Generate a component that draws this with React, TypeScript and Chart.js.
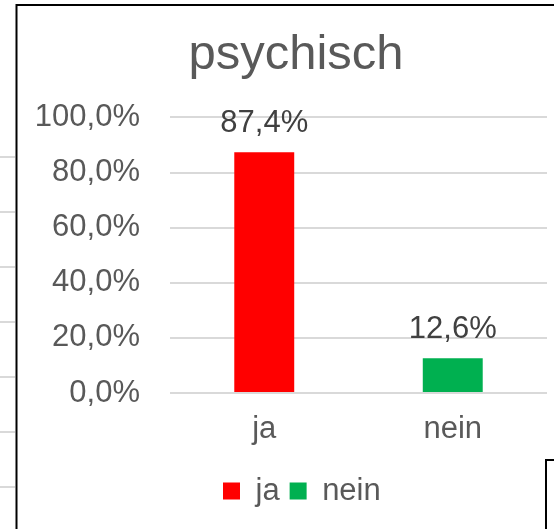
import React, { useEffect, useRef } from 'react';
import { Chart, registerables } from 'chart.js';

Chart.register(...registerables);

// ---- data ----
const chartTitle = 'psychisch';
const categories = ['ja', 'nein'];
const values = [87.4, 12.6];
const barColors = ['#FF0000', '#00B050'];
const yTicks = [0, 20, 40, 60, 80, 100];

const FONT = '"Liberation Sans", Arial, Helvetica, sans-serif';
const TEXT = '#595959';
const LABEL = '#404040';
const GRID = '#D9D9D9';

const fmt = (v: number) => v.toFixed(1).replace('.', ',') + '%';

// decorative frame (chart border + fragments of neighbouring objects)
const decorPlugin = {
  id: 'decor',
  afterLayout(chart: any) {
    // centre the title and the legend the way the original chart does
    const t = chart.titleBlock;
    if (t) {
      const w = t.right - t.left;
      t.left = 296 - w / 2;
      t.right = 296 + w / 2;
    }
    const lg = chart.legend;
    if (lg && lg.lineWidths) {
      const lw = lg.lineWidths[0];
      const cur = (lg.left + 10 + lg.right - lw) / 2;
      const d = 223 - cur;
      lg.left += d;
      lg.right += d;
    }
  },
  beforeDraw(chart: any) {
    const ctx = chart.ctx;
    ctx.save();
    ctx.fillStyle = '#FFFFFF';
    ctx.fillRect(0, 0, chart.width, chart.height);
    ctx.strokeStyle = GRID;
    ctx.lineWidth = 2;
    for (let k = 0; k < 7; k++) {
      const y = 157 + k * 55;
      ctx.beginPath();
      ctx.moveTo(0, y);
      ctx.lineTo(15, y);
      ctx.stroke();
    }
    ctx.strokeStyle = '#000000';
    ctx.lineWidth = 2;
    ctx.beginPath();
    ctx.moveTo(16.5, chart.height);
    ctx.lineTo(16.5, 5);
    ctx.lineTo(chart.width, 5);
    ctx.stroke();
    ctx.beginPath();
    ctx.moveTo(546, chart.height);
    ctx.lineTo(546, 460);
    ctx.lineTo(chart.width, 460);
    ctx.stroke();
    ctx.restore();
  },
};

const dataLabelPlugin = {
  id: 'dataLabels',
  afterDatasetsDraw(chart: any) {
    const ctx = chart.ctx;
    ctx.save();
    ctx.font = `31px ${FONT}`;
    ctx.fillStyle = LABEL;
    ctx.textAlign = 'center';
    ctx.textBaseline = 'alphabetic';
    chart.data.datasets.forEach((ds: any, i: number) => {
      const meta = chart.getDatasetMeta(i);
      meta.data.forEach((el: any, j: number) => {
        const v = ds.data[j];
        if (v == null) return;
        ctx.fillText(fmt(v), el.x, el.y - 20);
      });
    });
    ctx.restore();
  },
};

export default function App() {
  const ref = useRef<HTMLCanvasElement>(null);

  useEffect(() => {
    if (!ref.current) return;
    const datasets = categories.map((c, i) => ({
      label: c,
      data: categories.map((_, j) => (j === i ? values[i] : null)),
      backgroundColor: barColors[i],
      borderWidth: 0,
      grouped: false,
      categoryPercentage: 1,
      barPercentage: 0.318,
    }));

    const chart = new Chart(ref.current, {
      type: 'bar',
      data: { labels: categories, datasets: datasets as any },
      plugins: [decorPlugin, dataLabelPlugin],
      options: {
        animation: false,
        responsive: false,
        devicePixelRatio: 1,
        events: [],
        layout: { padding: { left: 0, right: 7, top: 0, bottom: 12.5 } },
        plugins: {
          title: {
            display: true,
            text: chartTitle,
            color: TEXT,
            font: { family: FONT, size: 49, weight: 'normal' },
            padding: { top: 26.2, bottom: 32.4 },
          },
          legend: {
            display: true,
            position: 'bottom',
            labels: {
              boxWidth: 17,
              boxHeight: 17,
              padding: 10,
              color: TEXT,
              font: { family: FONT, size: 31 },
            },
          },
          tooltip: { enabled: false },
        },
        scales: {
          x: {
            grid: { display: false, drawTicks: false },
            border: { display: false },
            ticks: { color: TEXT, font: { family: FONT, size: 31 }, padding: 18 },
            afterFit: (s: any) => { s.height = 72.5; },
          },
          y: {
            min: 0,
            max: 100,
            grid: { color: GRID, lineWidth: 2, drawTicks: false },
            border: { display: false },
            ticks: {
              color: TEXT,
              font: { family: FONT, size: 31 },
              padding: 30,
              callback: (v: any) => fmt(Number(v)),
            },
            afterBuildTicks: (s: any) => { s.ticks = yTicks.map((v) => ({ value: v })); },
            afterFit: (s: any) => { s.width = 170; },
          },
        },
      } as any,
    });
    return () => chart.destroy();
  }, []);

  return (
    <div style={{ position: 'absolute', left: 0, top: 0, width: 554, height: 529 }}>
      <canvas ref={ref} width={554} height={529} style={{ display: 'block' }} />
    </div>
  );
}
